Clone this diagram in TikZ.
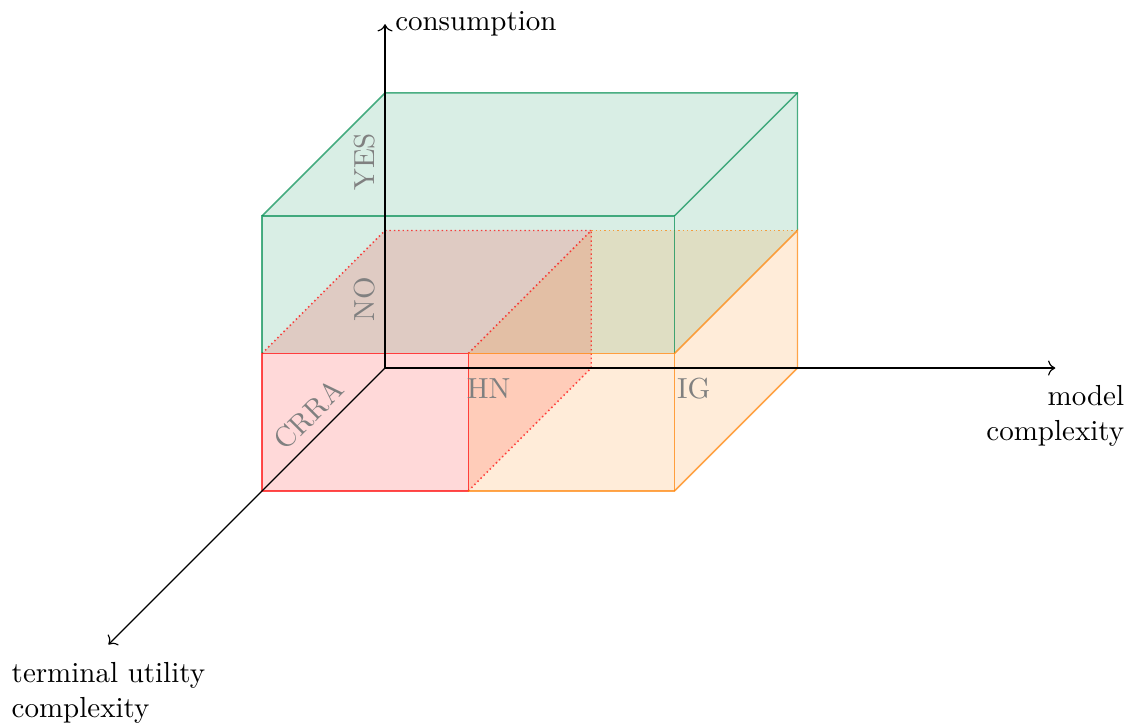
\documentclass[tikz,border=0pt]{standalone}
\usepackage{tikz}
\usetikzlibrary{arrows.meta}
\definecolor{boxGreen}{RGB}{0,140,80}
\definecolor{boxRed}{RGB}{255,0,0}
\definecolor{boxOrange}{RGB}{255,128,0}
\tikzset{
  face/.style={fill=#1, fill opacity=0.15},
  edge/.style={draw=#1, draw opacity=0.7, line width=0.5pt},
  hidden/.style={draw=#1, draw opacity=0.7, line width=0.5pt, densely dotted},
  tag/.style={text=gray}
}

\begin{document}
\begin{tikzpicture}[x={(2.5cm,0cm)}, y={(0cm,1.667cm)}, z={(-1.49cm,-1.49cm)}]
  \useasboundingbox (-4.667cm,-4.291cm) rectangle (8.970cm,4.461cm);
  % faces
  \fill[face=boxGreen] (0,1,1) -- (2,1,1) -- (2,2,1) -- (0,2,1) -- cycle;
  \fill[face=boxGreen] (0,2,1) -- (0,2,0) -- (2,2,0) -- (2,2,1) -- cycle;
  \fill[face=boxGreen] (2,1,1) -- (2,1,0) -- (2,2,0) -- (2,2,1) -- cycle;
  \fill[face=boxRed] (0,0,1) -- (1,0,1) -- (1,1,1) -- (0,1,1) -- cycle;
  \fill[face=boxRed] (0,1,1) -- (0,1,0) -- (1,1,0) -- (1,1,1) -- cycle;
  \fill[face=boxRed] (1,0,1) -- (1,0,0) -- (1,1,0) -- (1,1,1) -- cycle;
  \fill[face=boxOrange] (1,0,1) -- (2,0,1) -- (2,1,1) -- (1,1,1) -- cycle;
  \fill[face=boxOrange] (1,1,1) -- (1,1,0) -- (2,1,0) -- (2,1,1) -- cycle;
  \fill[face=boxOrange] (2,0,1) -- (2,0,0) -- (2,1,0) -- (2,1,1) -- cycle;
  % hidden edges
  \draw[hidden=boxRed] (0,1,1) -- (0,1,0) -- (1,1,0) -- (1,1,1);
  \draw[hidden=boxRed] (1,0,1) -- (1,0,0) -- (1,1,0);
  \draw[hidden=boxOrange] (1,1,0) -- (2,1,0);
  % visible edges
  \draw[edge=boxGreen] (2,1,1) -- (2,2,1) -- (0,2,1) -- (0,1,1);
  \draw[edge=boxGreen] (0,2,1) -- (0,2,0) -- (2,2,0) -- (2,1,0);
  \draw[edge=boxGreen] (2,2,1) -- (2,2,0);
  \draw[edge=boxRed] (0,0,1) -- (1,0,1) -- (1,1,1) -- (0,1,1) -- cycle;
  \draw[edge=boxOrange] (1,0,1) -- (2,0,1) -- (2,1,1) -- (1,1,1);
  \draw[edge=boxOrange] (2,0,1) -- (2,0,0) -- (2,1,0) -- (2,1,1);
  % axes
  \coordinate (O) at (0,0,0);
  \coordinate (xend) at (3.25,0,0);
  \coordinate (yend) at (0,2.5,0);
  \coordinate (zend) at (0,0,2.25);
  \draw[->] (O) -- (xend);
  \draw[->] (O) -- (yend);
  \draw[->] (O) -- (zend);
  \node[below=2.5pt, align=right] (xlab) at (xend) {model\\complexity};
  \node[right] (ylab) at (yend) {consumption};
  \node[below=2.5pt, align=left] (zlab) at (zend) {terminal utility\\complexity};
  % labels
  \node[tag, rotate=90, anchor=south] (yes) at (0,1.5,0) {YES};
  \node[tag, rotate=90, anchor=south] (no) at (0,0.5,0) {NO};
  \node[tag, rotate=45, anchor=south] (crra) at (0,0,0.5) {CRRA};
  \node[tag, anchor=west] (hn) at (0.867cm,-0.255cm) {HN};
  \node[tag, anchor=west] (ig) at (3.418cm,-0.255cm) {IG};
\end{tikzpicture}
\end{document}
